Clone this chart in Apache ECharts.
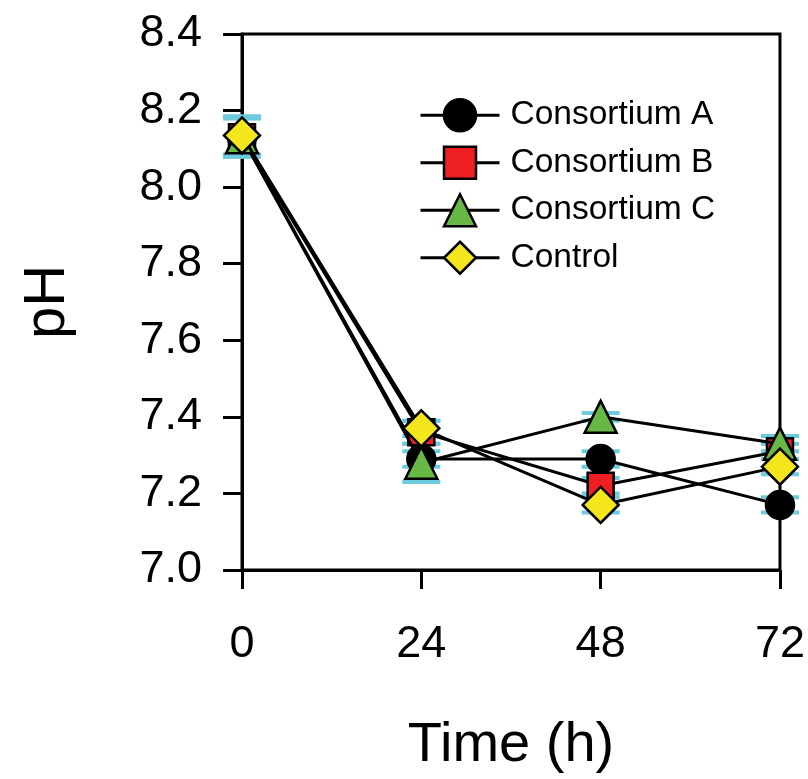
<!DOCTYPE html>
<html>
<head>
<meta charset="utf-8">
<script src="https://cdn.jsdelivr.net/npm/echarts@6/dist/echarts.min.js"></script>
<style>html,body{margin:0;padding:0;background:#fff}#c{width:808px;height:779px}</style>
</head>
<body>
<div id="c"></div>
<script>
const times = [0, 24, 48, 72];
const seriesNames = ['Consortium A', 'Consortium B', 'Consortium C', 'Control'];
const phA = [8.13, 7.29, 7.29, 7.17];
const phB = [8.13, 7.36, 7.22, 7.31];
const phC = [8.13, 7.28, 7.40, 7.33];
const phCtrl = [8.135, 7.37, 7.17, 7.27];
const errA = [0.05, 0.02, 0.02, 0.02];
const errB = [0.05, 0.03, 0.02, 0.02];
const errC = [0.05, 0.05, 0.01, 0.02];
const errCtrl = [0.05, 0.02, 0.02, 0.02];
const yTicks = ['7.0', '7.2', '7.4', '7.6', '7.8', '8.0', '8.2', '8.4'];
const xTicks = ['0', '24', '48', '72'];

const FONT = '"Liberation Sans", Arial, Helvetica, sans-serif';
const values = [phA, phB, phC, phCtrl];
const errs = [errA, errB, errC, errCtrl];
const symbols = ['circle', 'rect', 'triangle', 'diamond'];
const sizes = [28, 26, 32, 36];
const fills = ['#000000', '#ee2024', '#68b845', '#f3e61c'];

const chart = echarts.init(document.getElementById('c'), null, {renderer: 'canvas'});

const errSeries = values.map((vals, si) => ({
  type: 'custom',
  name: seriesNames[si] + ' err',
  z: 1,
  silent: true,
  legendHoverLink: false,
  data: times.map((t, i) => [t, vals[i], errs[si][i]]),
  renderItem: function (params, api) {
    const x = api.value(0), y = api.value(1), e = api.value(2);
    const top = api.coord([x, y + e]);
    const bot = api.coord([x, y - e]);
    const hw = 19;
    const st = {stroke: '#6ccbdc', lineWidth: 4};
    return {
      type: 'group',
      children: [
        {type: 'line', shape: {x1: top[0], y1: top[1], x2: bot[0], y2: bot[1]}, style: st},
        {type: 'line', shape: {x1: top[0] - hw, y1: top[1], x2: top[0] + hw, y2: top[1]}, style: st},
        {type: 'line', shape: {x1: bot[0] - hw, y1: bot[1], x2: bot[0] + hw, y2: bot[1]}, style: st}
      ]
    };
  }
}));

const lineSeries = values.map((vals, si) => ({
  type: 'line',
  name: seriesNames[si],
  z: 3 + si,
  data: times.map((t, i) => [t, vals[i]]),
  symbol: symbols[si],
  symbolSize: sizes[si],
  showAllSymbol: true,
  lineStyle: {color: '#000', width: 3},
  itemStyle: {color: fills[si], borderColor: '#000', borderWidth: 2.5},
  emphasis: {disabled: true},
  animation: false
}));

chart.setOption({
  animation: false,
  backgroundColor: '#fff',
  grid: {left: 242, right: 27, top: 34, bottom: 204, show: true, borderColor: '#000', borderWidth: 3},
  legend: {
    data: seriesNames,
    orient: 'vertical',
    left: 414,
    top: 93,
    itemWidth: 79,
    itemHeight: 40,
    itemGap: 13,
    lineStyle: {width: 3, color: '#000'},
    itemStyle: {borderColor: '#000', borderWidth: 2.5},
    textStyle: {fontFamily: FONT, fontSize: 33.5, color: '#000', padding: [0, 0, 0, 6]},
    selectedMode: false
  },
  xAxis: {
    type: 'value',
    min: 0, max: 72, interval: 24,
    name: 'Time (h)',
    nameLocation: 'middle',
    nameGap: 148,
    nameTextStyle: {fontFamily: FONT, fontSize: 56, color: '#000'},
    axisLine: {show: true, onZero: false, lineStyle: {color: '#000', width: 3}},
    axisTick: {show: true, inside: false, length: 19, lineStyle: {color: '#000', width: 3}},
    axisLabel: {fontFamily: FONT, fontSize: 45, color: '#000', margin: 52,
      formatter: v => xTicks[times.indexOf(v)] ?? ''},
    splitLine: {show: false}
  },
  yAxis: {
    type: 'value',
    min: 7.0, max: 8.4, interval: 0.2,
    name: 'pH',
    nameLocation: 'middle',
    nameGap: 165,
    nameTextStyle: {fontFamily: FONT, fontSize: 58, color: '#000'},
    axisLine: {show: true, onZero: false, lineStyle: {color: '#000', width: 3}},
    axisTick: {show: true, inside: false, length: 19, lineStyle: {color: '#000', width: 3}},
    axisLabel: {fontFamily: FONT, fontSize: 45, color: '#000', margin: 40,
      formatter: v => yTicks[Math.round((v - 7.0) / 0.2)] ?? ''},
    splitLine: {show: false}
  },
  series: errSeries.concat(lineSeries)
});
</script>
</body>
</html>
